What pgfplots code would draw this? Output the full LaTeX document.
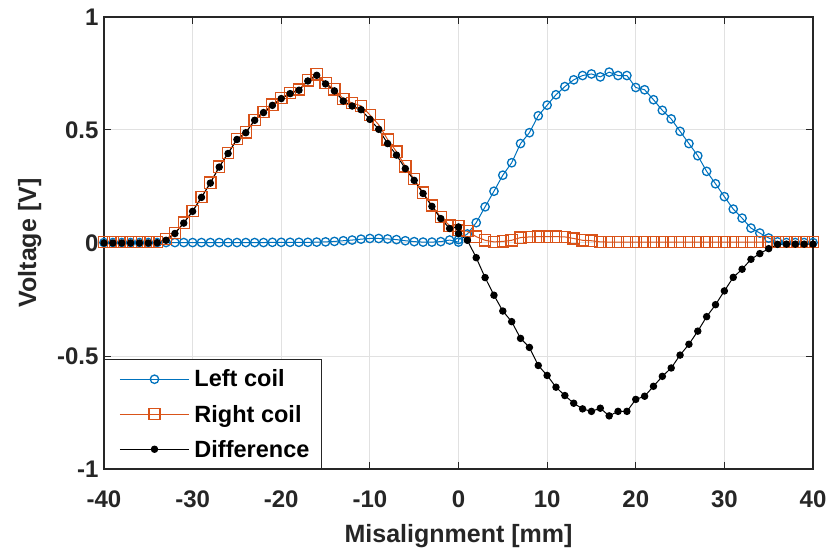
\documentclass[border=0pt]{standalone}
\usepackage{fontspec}
\setmainfont{Liberation Sans}
\usepackage{pgfplots}
\pgfplotsset{compat=1.18}
\definecolor{mblue}{rgb}{0,0.447,0.741}
\definecolor{morange}{rgb}{0.85,0.325,0.098}
\definecolor{axgray}{rgb}{0.15,0.15,0.15}
\definecolor{gridgray}{RGB}{225,225,225}

\begin{document}
\begin{tikzpicture}
\begin{axis}[
  name=ax,
  scale only axis, width=709bp, height=452bp,
  xmin=-40, xmax=40, ymin=-1, ymax=1,
  xtick={-40,-30,...,40}, xticklabels={-40,-30,-20,-10,0,10,20,30,40},
  ytick={-1,-0.5,0,0.5,1}, yticklabels={-1,-0.5,0,0.5,1},
  tick align=inside, major tick length=7bp,
  tick style={axgray, line width=1bp},
  axis line style={axgray, line width=1.2bp},
  grid=major, major grid style={gridgray, line width=1bp},
  ticklabel style={font=\fontsize{24bp}{28bp}\selectfont\bfseries, text=axgray},
  xticklabel style={anchor=base, yshift=-38bp},
  yticklabel style={anchor=east, xshift=-2bp},
  label style={font=\fontsize{25bp}{30bp}\selectfont\bfseries, text=axgray},
  xlabel={Misalignment [mm]}, ylabel={Voltage [V]},
  xlabel style={at={(axis description cs:0.5,-0.1637)}, anchor=base},
  ylabel style={at={(axis description cs:-0.0959,0.5)}, anchor=base},
  legend style={at={(0,0)}, anchor=south west, draw=axgray, line width=1bp,
    font=\fontsize{23.5bp}{28bp}\selectfont\bfseries, text=black,
    inner xsep=10bp, inner ysep=8bp, row sep=12.5bp,
    /tikz/every odd column/.append style={column sep=3bp}},
  legend cell align=left,
  legend image code/.code={\path (0bp,0bp); \draw[mark repeat=2, mark phase=2] plot coordinates {(5bp,0bp)(39.5bp,0bp)(74bp,0bp)};},
]
% left coil voltage
\addplot[color=mblue, line width=1bp, mark=o, mark size=4.2bp, mark options={line width=1.3bp}] coordinates {
(-40,0.002)(-39,0.002)(-38,0.002)(-37,0.002)(-36,0.002)(-35,0.002)(-34,0.002)(-33,0.002)
(-32,0.002)(-31,0.002)(-30,0.002)(-29,0.002)(-28,0.002)(-27,0.002)(-26,0.002)(-25,0.002)
(-24,0.002)(-23,0.002)(-22,0.002)(-21,0.003)(-20,0.003)(-19,0.003)(-18,0.003)(-17,0.003)
(-16,0.004)(-15,0.005)(-14,0.007)(-13,0.010)(-12,0.013)(-11,0.017)(-10,0.020)(-9,0.020)
(-8,0.018)(-7,0.015)(-6,0.010)(-5,0.006)(-4,0.004)(-3,0.004)(-2,0.006)(-1,0.013)
(0,0.004)(0,0.015)(1,0.040)(2,0.090)(3,0.160)(4,0.229)(5,0.300)(6,0.355)(7,0.440)
(8,0.488)(9,0.563)(10,0.610)(11,0.656)(12,0.692)(13,0.722)(14,0.741)(15,0.748)(16,0.735)
(17,0.756)(18,0.741)(19,0.741)(20,0.688)(21,0.678)(22,0.634)(23,0.587)(24,0.549)
(25,0.494)(26,0.440)(27,0.386)(28,0.317)(29,0.262)(30,0.205)(31,0.150)(32,0.110)
(33,0.066)(34,0.044)(35,0.022)(36,0.005)(37,0.002)(38,0.002)(39,0.002)(40,0.002)
};
\addlegendentry{Left coil}
% right coil voltage
\addplot[color=morange, line width=1bp, mark=square, mark size=5.6bp, mark options={line width=1.3bp}] coordinates {
(-40,0.004)(-39,0.004)(-38,0.004)(-37,0.004)(-36,0.004)(-35,0.004)(-34,0.004)(-33,0.018)
(-32,0.045)(-31,0.090)(-30,0.142)(-29,0.204)(-28,0.267)(-27,0.338)(-26,0.398)(-25,0.460)
(-24,0.490)(-23,0.545)(-22,0.579)(-21,0.612)(-20,0.642)(-19,0.664)(-18,0.679)(-17,0.720)
(-16,0.746)(-15,0.709)(-14,0.680)(-13,0.638)(-12,0.619)(-11,0.607)(-10,0.567)(-9,0.523)
(-8,0.458)(-7,0.404)(-6,0.339)(-5,0.283)(-4,0.223)(-3,0.166)(-2,0.114)(-1,0.077)
(0,0.075)(0,0.057)(1,0.052)(2,0.028)(3,0.012)(4,0.005)(5,0.007)(6,0.012)(7,0.024)
(8,0.027)(9,0.028)(10,0.028)(11,0.028)(12,0.027)(13,0.020)(14,0.012)(15,0.010)(16,0.005)
(17,0.004)(18,0.004)(19,0.004)(20,0.004)(21,0.004)(22,0.004)(23,0.004)(24,0.004)
(25,0.004)(26,0.004)(27,0.004)(28,0.004)(29,0.004)(30,0.004)(31,0.004)(32,0.004)
(33,0.004)(34,0.004)(35,0.004)(36,0.004)(37,0.004)(38,0.004)(39,0.004)(40,0.004)
};
\addlegendentry{Right coil}
% right minus left
\addplot[color=black, line width=1bp, mark=*, mark size=3.2bp] coordinates {
(-40,0.000)(-39,0.000)(-38,0.000)(-37,0.000)(-36,0.000)(-35,0.000)(-34,0.001)(-33,0.012)
(-32,0.042)(-31,0.088)(-30,0.140)(-29,0.202)(-28,0.265)(-27,0.336)(-26,0.396)(-25,0.458)
(-24,0.488)(-23,0.543)(-22,0.577)(-21,0.609)(-20,0.639)(-19,0.661)(-18,0.676)(-17,0.717)
(-16,0.742)(-15,0.704)(-14,0.673)(-13,0.628)(-12,0.606)(-11,0.590)(-10,0.547)(-9,0.503)
(-8,0.440)(-7,0.389)(-6,0.329)(-5,0.277)(-4,0.219)(-3,0.162)(-2,0.108)(-1,0.064)
(0,0.071)(0,0.042)(1,0.012)(2,-0.065)(3,-0.153)(4,-0.231)(5,-0.301)(6,-0.348)(7,-0.422)
(8,-0.462)(9,-0.542)(10,-0.586)(11,-0.638)(12,-0.675)(13,-0.709)(14,-0.734)(15,-0.745)
(16,-0.731)(17,-0.765)(18,-0.745)(19,-0.745)(20,-0.692)(21,-0.678)(22,-0.634)(23,-0.590)
(24,-0.553)(25,-0.496)(26,-0.448)(27,-0.390)(28,-0.326)(29,-0.273)(30,-0.212)(31,-0.152)
(32,-0.116)(33,-0.072)(34,-0.047)(35,-0.025)(36,-0.006)(37,-0.005)(38,-0.005)(39,-0.005)(40,-0.005)
};
\addlegendentry{Difference}
\end{axis}
\pgfresetboundingbox
\useasboundingbox ([xshift=-104bp,yshift=-85bp]ax.south west) rectangle ([xshift=18bp,yshift=17bp]ax.north east);
\end{tikzpicture}
\end{document}
